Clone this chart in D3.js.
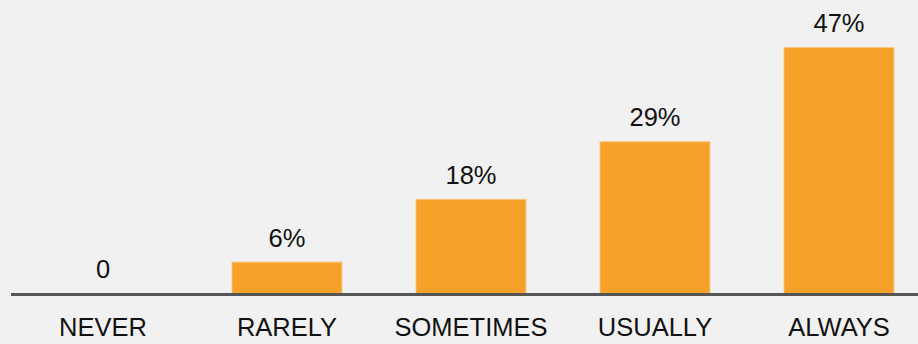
<!DOCTYPE html>
<html>
<head>
<meta charset="utf-8">
<script src="https://cdn.jsdelivr.net/npm/d3@7"></script>
<style>
  html, body { margin: 0; padding: 0; background: #f1f1f1; }
  svg { display: block; }
  text { font-family: "Liberation Sans", Arial, Helvetica, sans-serif; fill: #111; }
</style>
</head>
<body>
<svg id="chart" width="918" height="344"></svg>
<script>
// Frequency categories and share of responses (%)
const categories = ["NEVER", "RARELY", "SOMETIMES", "USUALLY", "ALWAYS"];
const values = [0, 6, 18, 29, 47];
const valueLabels = ["0", "6%", "18%", "29%", "47%"];

const width = 918, height = 344;
const margin = { top: 47, left: 11, baseline: 293 };
const fontSize = 25.5;

const svg = d3.select("#chart");

svg.append("rect")
  .attr("width", width).attr("height", height)
  .attr("fill", "#f1f1f1");

const x = d3.scaleBand()
  .domain(categories)
  .range([margin.left, margin.left + 920])
  .paddingInner(0.397)
  .paddingOuter(0.1985);

const y = d3.scaleLinear()
  .domain([0, d3.max(values)])
  .range([margin.baseline, margin.top]);

const data = categories.map((c, i) => ({ cat: c, value: values[i], label: valueLabels[i] }));

// Bars
svg.append("g")
  .selectAll("rect")
  .data(data.filter(d => d.value > 0))
  .join("rect")
  .attr("x", d => x(d.cat) + 0.5)
  .attr("y", d => y(d.value) + 0.5)
  .attr("width", x.bandwidth() - 1)
  .attr("height", d => y(0) - y(d.value))
  .attr("fill", "#f5a028")
  .attr("stroke", "#f8c880")
  .attr("stroke-width", 1);

// Value labels above bars
svg.append("g")
  .selectAll("text")
  .data(data)
  .join("text")
  .attr("x", d => x(d.cat) + x.bandwidth() / 2)
  .attr("y", d => y(d.value) - 15)
  .attr("text-anchor", "middle")
  .attr("font-size", fontSize)
  .text(d => d.label);

// Baseline
svg.append("line")
  .attr("x1", margin.left).attr("x2", width)
  .attr("y1", y(0) + 1.5).attr("y2", y(0) + 1.5)
  .attr("stroke", "#555")
  .attr("stroke-width", 3);

// Category axis labels
const xAxis = d3.axisBottom(x).tickSize(0).tickPadding(0);
const gx = svg.append("g")
  .attr("transform", `translate(0,${y(0)})`)
  .call(xAxis);
gx.select(".domain").remove();
gx.selectAll("text")
  .attr("dy", null)
  .attr("y", 43)
  .attr("font-size", fontSize)
  .attr("font-family", "'Liberation Sans', Arial, sans-serif")
  .attr("fill", "#111");
</script>
</body>
</html>
